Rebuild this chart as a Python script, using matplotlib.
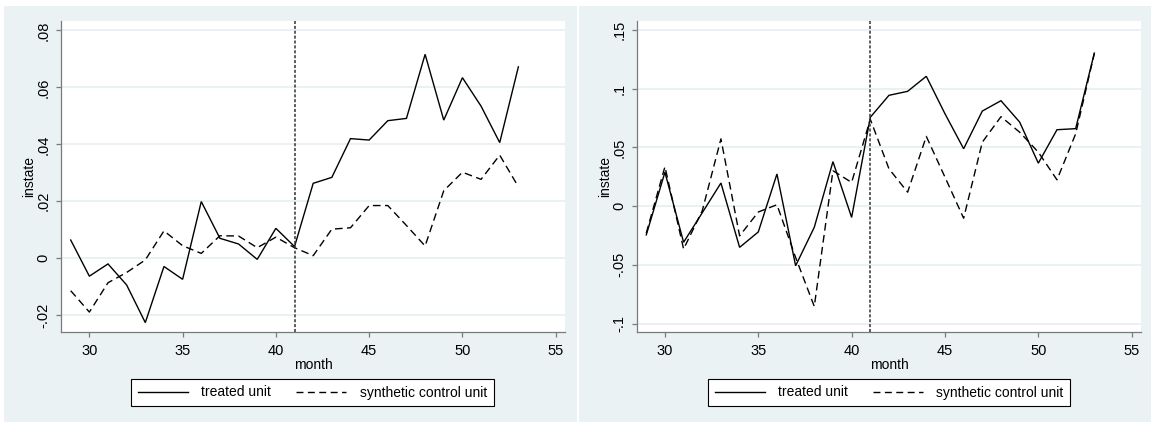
import matplotlib
matplotlib.use("Agg")
import matplotlib.pyplot as plt
from matplotlib.patches import Rectangle
from matplotlib.lines import Line2D

plt.rcParams["font.family"] = ["Liberation Sans", "DejaVu Sans"]
plt.rcParams["font.size"] = 10

# Months observed in both panels
months = [29, 30, 31, 32, 33, 34, 35, 36, 37, 38, 39, 40, 41,
          42, 43, 44, 45, 46, 47, 48, 49, 50, 51, 52, 53]
treatment_month = 41

# Left panel series
treated_left = [0.0064, -0.0063, -0.0020, -0.0094, -0.0226, -0.0029, -0.0074,
                0.0199, 0.0070, 0.0050, -0.0004, 0.0105, 0.0041,
                0.0263, 0.0284, 0.0420, 0.0415, 0.0483, 0.0491, 0.0716,
                0.0485, 0.0634, 0.0534, 0.0406, 0.0672]
synth_left = [-0.0114, -0.0189, -0.0086, -0.0050, -0.0006, 0.0096, 0.0044,
              0.0017, 0.0079, 0.0078, 0.0037, 0.0074, 0.0037,
              0.0009, 0.0102, 0.0107, 0.0185, 0.0185, 0.0115, 0.0043,
              0.0237, 0.0302, 0.0277, 0.0362, 0.0251]

# Right panel series
treated_right = [-0.0245, 0.0289, -0.0308, -0.0056, 0.0197, -0.0351, -0.0220,
                 0.0274, -0.0508, -0.0180, 0.0379, -0.0096, 0.0757,
                 0.0944, 0.0978, 0.1106, 0.0787, 0.0489, 0.0810, 0.0898,
                 0.0716, 0.0366, 0.0651, 0.0660, 0.1304]
synth_right = [-0.0230, 0.0336, -0.0365, -0.0039, 0.0573, -0.0253, -0.0050,
               0.0012, -0.0437, -0.0854, 0.0302, 0.0202, 0.0740,
               0.0318, 0.0119, 0.0594, 0.0247, -0.0103, 0.0545, 0.0762,
               0.0630, 0.0460, 0.0224, 0.0616, 0.1300]

x_ticks = [30, 35, 40, 45, 50, 55]
y_ticks_left = [-0.02, 0, 0.02, 0.04, 0.06, 0.08]
y_labels_left = ["-.02", "0", ".02", ".04", ".06", ".08"]
y_ticks_right = [-0.1, -0.05, 0, 0.05, 0.1, 0.15]
y_labels_right = ["-.1", "-.05", "0", ".05", ".1", ".15"]

legend_labels = ["treated unit", "synthetic control unit"]

BG = "#eaf2f3"
GRID = "#e6eff0"
AXIS = "#7a7a7a"

W, H = 1151, 422
fig = plt.figure(figsize=(W / 100, H / 100), dpi=100)
fig.patch.set_facecolor("white")

# Graph-region backgrounds of the two panels
fig.patches.append(Rectangle((4 / W, 0), (577 - 4) / W, (H - 6) / H,
                             transform=fig.transFigure, facecolor=BG,
                             edgecolor="none", zorder=-5))
fig.patches.append(Rectangle((579 / W, 0), (W - 579) / W, (H - 6) / H,
                             transform=fig.transFigure, facecolor=BG,
                             edgecolor="none", zorder=-5))

def px_rect(x0, x1, y0, y1):
    return [x0 / W, 1 - y1 / H, (x1 - x0) / W, (y1 - y0) / H]

panels = [
    dict(rect=px_rect(61, 565, 21, 332), treated=treated_left, synth=synth_left,
         yt=y_ticks_left, yl=y_labels_left, ylim=(-0.0259, 0.0833),
         xlim=(28.48, 55.5), leg_x=312.5),
    dict(rect=px_rect(637.3, 1141, 21, 332), treated=treated_right, synth=synth_right,
         yt=y_ticks_right, yl=y_labels_right, ylim=(-0.1072, 0.1577),
         xlim=(28.52, 55.5), leg_x=889),
]

for p in panels:
    ax = fig.add_axes(p["rect"])
    ax.set_facecolor("white")
    ax.set_xlim(*p["xlim"])
    ax.set_ylim(*p["ylim"])

    for v in p["yt"]:
        ax.axhline(v, color=GRID, lw=1.2, zorder=1)

    ax.plot(months, p["treated"], color="black", lw=1.0, zorder=3,
            solid_joinstyle="miter")
    ax.plot(months, p["synth"], color="black", lw=1.0, zorder=3,
            dashes=(5.5, 3.2))
    ax.axvline(treatment_month, color="#333333", lw=1.1, dashes=(2.0, 1.2), zorder=4)

    for side in ("top", "right"):
        ax.spines[side].set_visible(False)
    for side in ("left", "bottom"):
        ax.spines[side].set_color(AXIS)
        ax.spines[side].set_linewidth(0.9)

    ax.set_xticks(x_ticks)
    ax.set_xticklabels([str(t) for t in x_ticks])
    ax.set_yticks(p["yt"])
    ax.set_yticklabels(p["yl"], rotation=90, va="center")
    ax.tick_params(axis="both", direction="out", length=3.6, width=0.9,
                   color=AXIS, labelsize=10.5, labelcolor="black")
    ax.tick_params(axis="y", pad=4)
    ax.tick_params(axis="x", pad=5)

    ax.set_xlabel("month", fontsize=10, labelpad=0)
    ax.set_ylabel("instate", fontsize=10, labelpad=0.5)

    handles = [Line2D([], [], color="black", lw=1.0),
               Line2D([], [], color="black", lw=1.0, dashes=(5.0, 3.2))]
    leg = fig.legend(handles, legend_labels, ncol=2, loc="center",
                     bbox_to_anchor=(p["leg_x"] / W, 1 - 392.5 / H),
                     frameon=True, fancybox=False, fontsize=10, framealpha=1,
                     handlelength=3.6, handletextpad=0.95, columnspacing=1.8,
                     borderpad=0.5, borderaxespad=0)
    leg.get_frame().set_edgecolor("black")
    leg.get_frame().set_linewidth(0.8)
    leg.get_frame().set_facecolor("white")

fig.savefig("out.png", dpi=100, facecolor=fig.get_facecolor())
